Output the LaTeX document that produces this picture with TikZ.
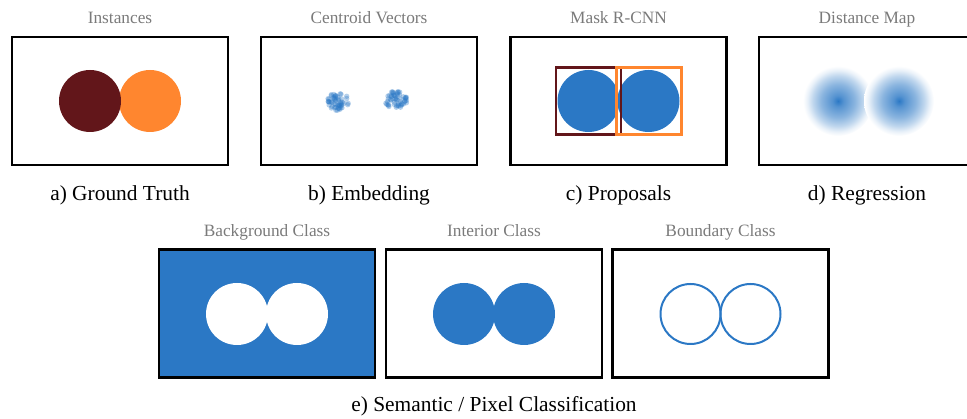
\documentclass[tikz,border=0pt]{standalone}
\usepackage{fontspec}
\setmainfont{Liberation Serif}
\definecolor{pblue}{HTML}{2B78C5}
\definecolor{pdark}{HTML}{62161A}
\definecolor{porange}{HTML}{FF862F}
\definecolor{ptitle}{HTML}{7A7A7A}
\pgfdeclareradialshading{blobshade}{\pgfpoint{0bp}{0bp}}{color(0bp)=(pblue); color(4bp)=(pblue!80!white); color(12bp)=(pblue!55!white); color(18bp)=(pblue!30!white); color(22bp)=(pblue!10!white); color(25bp)=(white); color(50bp)=(white)}
\begin{document}
\begin{tikzpicture}[x=1pt,y=-1pt,
  panel/.style={draw=black, line width=2.2pt, minimum width=216pt, minimum height=128pt, inner sep=0pt},
  ptitle/.style={anchor=base, text=ptitle, font=\fontsize{17.3}{20}\selectfont, inner sep=0pt},
  pcaption/.style={anchor=base, text=black, font=\fontsize{21.4}{25}\selectfont, inner sep=0pt},
  dot/.style={fill=pblue, fill opacity=0.35},
  ring/.style={draw=pblue, line width=2pt},
  propbox/.style={line width=2.2pt, minimum width=65pt, minimum height=67pt, inner sep=0pt}]
\useasboundingbox (0,0) rectangle (967,419);
\clip (0,0) rectangle (967,419);

% ---------- a) Ground Truth
\node[panel] (pa) at (120,101) {};
\fill[porange] (150,101) circle (31pt);
\fill[pdark] (90,101) circle (31pt);
\node[ptitle] (ta) at (120,24) {Instances};
\node[pcaption] (ca) at (120,201) {a) Ground Truth};

% ---------- b) Embedding
\node[panel] (pb) at (369,101) {};
\pgfmathsetseed{11}
\foreach \i in {1,...,55}{
  \pgfmathsetmacro\rr{9.5*sqrt(rnd)}
  \pgfmathsetmacro\aa{360*rnd}
  \fill[dot] ({338+1.2*\rr*cos(\aa)},{101+\rr*sin(\aa)}) circle (2.7pt);
}
\foreach \i in {1,...,55}{
  \pgfmathsetmacro\rr{9.5*sqrt(rnd)}
  \pgfmathsetmacro\aa{360*rnd}
  \fill[dot] ({396+1.15*\rr*cos(\aa)},{100+\rr*sin(\aa)}) circle (2.7pt);
}
\node[ptitle] (tb) at (369,24) {Centroid Vectors};
\node[pcaption] (cb) at (369,201) {b) Embedding};

% ---------- c) Proposals
\node[panel] (pc) at (618.5,101) {};
\fill[pblue] (588.5,101) circle (31pt);
\fill[pblue] (648.5,101) circle (31pt);
\node[propbox, draw=pdark] (bx1) at (588.5,101) {};
\node[propbox, draw=porange] (bx2) at (649,101) {};
\node[ptitle] (tc) at (618.5,24) {Mask R-CNN};
\node[pcaption] (cc) at (618.5,201) {c) Proposals};

% ---------- d) Regression
\node[panel] (pd) at (867,101) {};
\shade[shading=blobshade] (838,101) circle (35pt);
\shade[shading=blobshade] (899,101) circle (35pt);
\node[ptitle] (td) at (867,24) {Distance Map};
\node[pcaption] (cd) at (867,201) {d) Regression};

% ---------- e) Semantic / pixel classification
\node[panel, fill=pblue] (pe1) at (267,313.5) {};
\fill[white] (237,314) circle (31pt);
\fill[white] (297,314) circle (31pt);
\node[ptitle] (te1) at (267,236.5) {Background Class};

\node[panel] (pe2) at (494,313.5) {};
\fill[pblue] (464,314) circle (31pt);
\fill[pblue] (524,314) circle (31pt);
\node[ptitle] (te2) at (494,236.5) {Interior Class};

\node[panel] (pe3) at (720.5,313.5) {};
\draw[ring] (690.5,314) circle (30pt);
\draw[ring] (750.5,314) circle (30pt);
\node[ptitle] (te3) at (720.5,236.5) {Boundary Class};

\node[pcaption] (ce) at (494,411.5) {e) Semantic / Pixel Classification};
\end{tikzpicture}
\end{document}
